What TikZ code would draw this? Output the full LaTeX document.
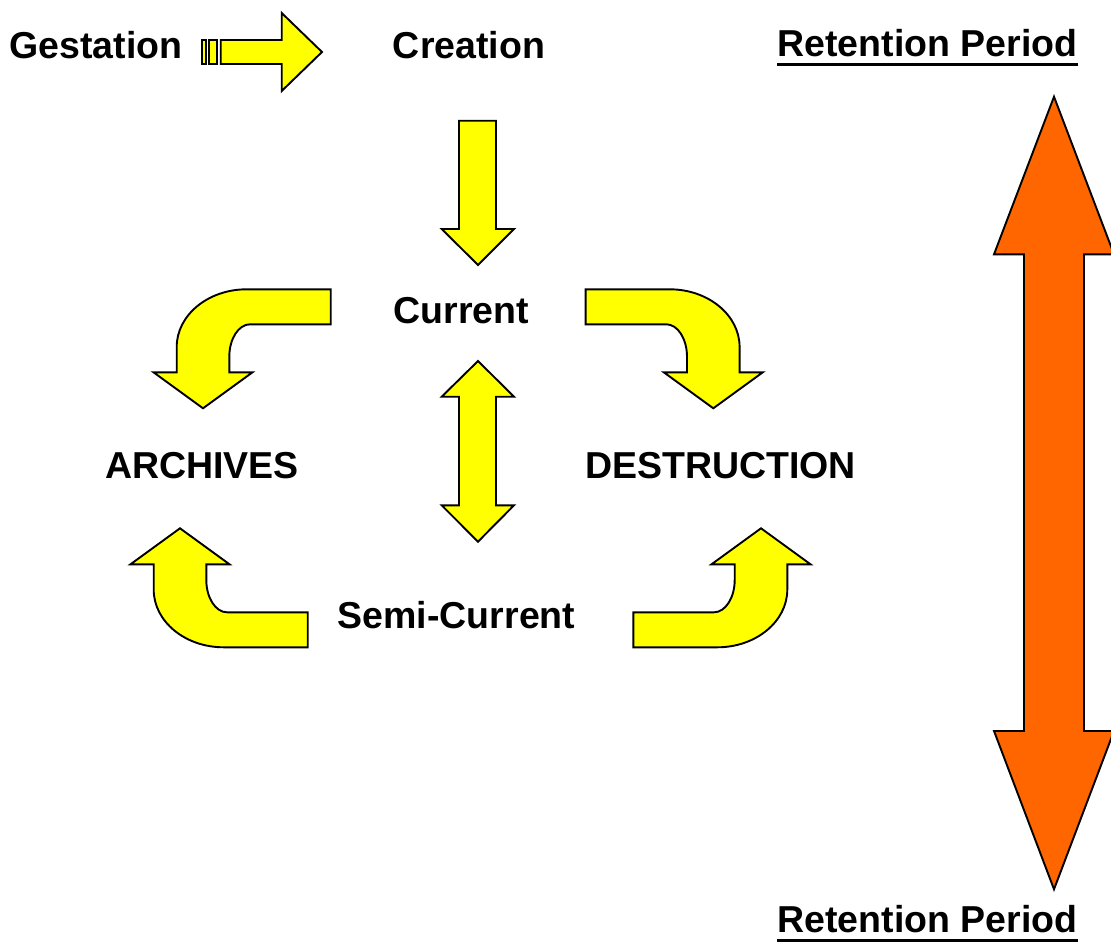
\documentclass[tikz,border=0pt]{standalone}
\usepackage{fontspec}
\setmainfont{Liberation Sans}
\usetikzlibrary{calc}
\definecolor{arrowyellow}{HTML}{FFFF00}
\definecolor{arroworange}{HTML}{FF6600}
\begin{document}
\begin{tikzpicture}[x=1pt,y=-1pt,
  blockarrow/.style={draw=black,fill=arrowyellow,line width=1.9pt,line join=miter},
  periodarrow/.style={draw=black,fill=arroworange,line width=1.9pt,line join=miter},
  stagelabel/.style={inner sep=0pt,anchor=base,font=\fontsize{37.5}{45}\selectfont\bfseries},
  bentarrow/.pic={
    \draw[blockarrow] (0,0) -- (49.5,-36) -- (26.3,-36) -- (26.3,-51.6)
      .. controls (26.3,-69.5) and (35.6,-84) .. (47,-84) -- (127.7,-84)
      -- (127.7,-119) -- (43.7,-119)
      .. controls (5.1,-119) and (-26.3,-93.2) .. (-26.3,-61.3)
      -- (-26.3,-36) -- (-49.5,-36) -- cycle;
  }]
\useasboundingbox (0,0) rectangle (1111,942);

% stage labels
\node[stagelabel] (gestation) at (96,58.5) {Gestation};
\node[stagelabel] (creation) at (469,58.5) {Creation};
\node[stagelabel] (current) at (461.5,323.3) {Current};
\node[stagelabel] (archives) at (202,478.5) {ARCHIVES};
\node[stagelabel] (destruction) at (720.5,478.5) {DESTRUCTION};
\node[stagelabel] (semicurrent) at (456.5,628.3) {Semi-Current};
\node[stagelabel] (rptop) at (927.5,57) {Retention Period};
\node[stagelabel] (rpbottom) at (927.5,932) {Retention Period};
\foreach \n in {rptop,rpbottom}
  \draw[line width=3pt] ($(\n.base west)+(0,8)$) -- ($(\n.base east)+(0,8)$);

% striped arrow: gestation to creation
\draw[blockarrow] (201.7,40) rectangle (206,64);
\draw[blockarrow] (209,40) rectangle (216.7,64);
\draw[blockarrow] (220.7,40) -- (281.7,40) -- (281.7,13) -- (322,52)
  -- (281.7,91) -- (281.7,64) -- (220.7,64) -- cycle;

% creation down to current
\draw[blockarrow] (459,120.7) -- (496,120.7) -- (496,229) -- (514,229)
  -- (478,265) -- (441.7,229) -- (459,229) -- cycle;

% current <-> semi-current
\draw[blockarrow] (478,361) -- (514,396.7) -- (496,396.7) -- (496,505.3)
  -- (514,505.3) -- (478,541.7) -- (441.7,505.3) -- (459,505.3)
  -- (459,396.7) -- (441.7,396.7) -- cycle;

% bent arrows around the cycle
\pic at (203,408.3) {bentarrow};
\pic[xscale=-1] at (713.3,408.3) {bentarrow};
\pic[yscale=-1] at (180,528.3) {bentarrow};
\pic[xscale=-1,yscale=-1] at (761,528.3) {bentarrow};

% retention period span
\draw[periodarrow] (1054,96.7) -- (1114,254.3) -- (1084,254.3) -- (1084,731)
  -- (1114,731) -- (1054,889.3) -- (994,731) -- (1024,731)
  -- (1024,254.3) -- (994,254.3) -- cycle;
\end{tikzpicture}
\end{document}
